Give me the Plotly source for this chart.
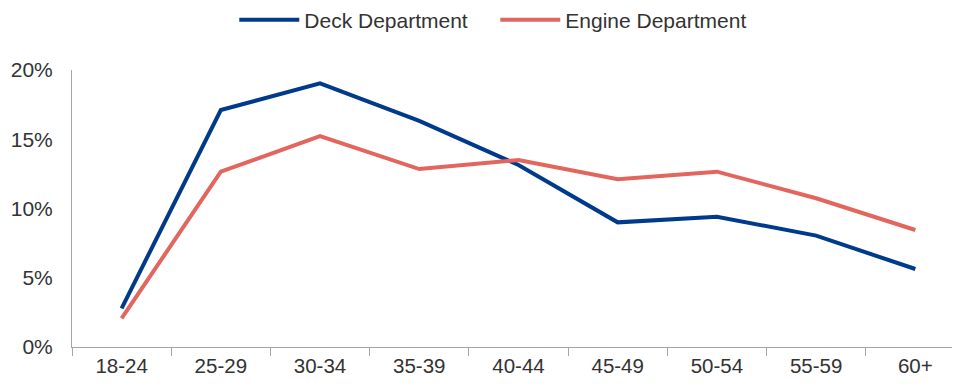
import plotly.graph_objects as go

categories = ["18-24", "25-29", "30-34", "35-39", "40-44", "45-49", "50-54", "55-59", "60+"]
deck = [0.0279, 0.1711, 0.1904, 0.1632, 0.1314, 0.0900, 0.0941, 0.0804, 0.0563]
engine = [0.0207, 0.1266, 0.1523, 0.1285, 0.1350, 0.1211, 0.1266, 0.1074, 0.0845]
series_names = ["Deck Department", "Engine Department"]
y_ticks = [0, 0.05, 0.10, 0.15, 0.20]
y_tick_labels = ["0%", "5%", "10%", "15%", "20%"]

DECK_COLOR = "#003A8C"
ENGINE_COLOR = "#E3665E"
TEXT_COLOR = "#333333"
AXIS_COLOR = "#A6A6A6"

fig = go.Figure()
fig.add_trace(go.Scatter(x=categories, y=deck, mode="lines", name=series_names[0],
                         line=dict(color=DECK_COLOR, width=4)))
fig.add_trace(go.Scatter(x=categories, y=engine, mode="lines", name=series_names[1],
                         line=dict(color=ENGINE_COLOR, width=4)))

fig.update_layout(
    width=952, height=379,
    margin=dict(l=64, r=0, t=62, b=40),
    paper_bgcolor="white", plot_bgcolor="white",
    font=dict(family="Liberation Sans, Arial, sans-serif", size=20, color=TEXT_COLOR),
    legend=dict(orientation="h", x=0.2377, xanchor="left", xref="container",
                y=0.968, yanchor="middle", yref="container",
                font=dict(size=21, color=TEXT_COLOR), itemwidth=60,
                entrywidth=186, entrywidthmode="pixels"),
    showlegend=True,
)
fig.update_xaxes(
    type="category", range=[-0.5, 8.45],
    showline=True, linecolor=AXIS_COLOR, linewidth=1,
    showgrid=False, zeroline=False,
    ticks="outside", tickson="boundaries", ticklen=8, tickcolor=AXIS_COLOR,
    tickfont=dict(family="Liberation Sans, Arial", size=20.5, color=TEXT_COLOR),
)
fig.update_yaxes(
    range=[0, 0.2], tickvals=y_ticks, ticktext=y_tick_labels,
    showline=True, linecolor=AXIS_COLOR, linewidth=1,
    showgrid=False, zeroline=False, ticks="",
    ticklabelstandoff=14,
    tickfont=dict(size=21, color=TEXT_COLOR),
)
fig.write_html("out.html")
